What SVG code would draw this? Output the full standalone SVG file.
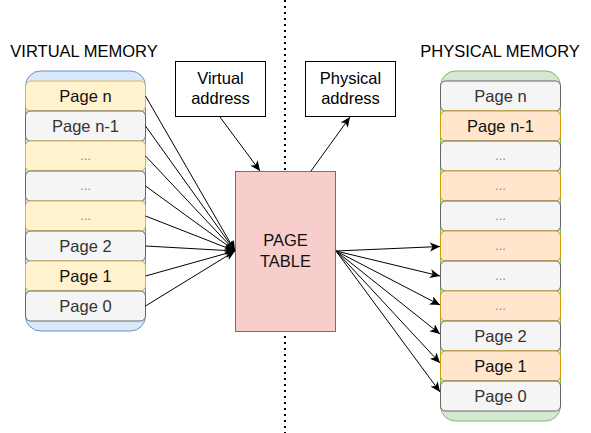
<svg xmlns="http://www.w3.org/2000/svg" width="591" height="433" viewBox="0 0 591 433">
<defs>
<marker id="arr" markerUnits="userSpaceOnUse" markerWidth="12" markerHeight="10" refX="10" refY="4.5" orient="auto">
<path d="M0,0 L10,4.5 L0,9 L2.5,4.5 z" fill="#000"/>
</marker>
<style>
text{font-family:"Liberation Sans",Arial,sans-serif;font-size:16.5px;text-anchor:middle}
.y{fill:#fff2cc;stroke:#d6b656}
.g{fill:#f5f5f5;stroke:#666666}
.o{fill:#ffe6cc;stroke:#d79b00}
.tg{fill:#333333}
.ty{fill:#111}
.dots{fill:#888;font-size:13px}
.c{stroke:#000;stroke-width:1;fill:none;marker-end:url(#arr)}
.box{fill:#fff;stroke:#000}
</style>
</defs>
<rect width="591" height="433" fill="#fff"/>
<line x1="285" y1="0" x2="285" y2="433" stroke="#000" stroke-width="2" stroke-dasharray="2 4"/>
<text x="84" y="56.5">VIRTUAL MEMORY</text>
<text x="500" y="56.5">PHYSICAL MEMORY</text>
<g id="virtual-memory">
<rect x="25.5" y="71" width="120" height="260" rx="15" fill="#dae8fc" stroke="#6c8ebf"/>
<rect class="y" x="25.5" y="81" width="120" height="30" rx="5"/><text class="ty" x="85.5" y="101.5">Page n</text>
<rect class="g" x="25.5" y="111" width="120" height="30" rx="5"/><text class="tg" x="85.5" y="131.5">Page n-1</text>
<rect class="y" x="25.5" y="141" width="120" height="30" rx="5"/><text class="dots" x="85.5" y="160">...</text>
<rect class="g" x="25.5" y="171" width="120" height="30" rx="5"/><text class="dots" x="85.5" y="190">...</text>
<rect class="y" x="25.5" y="201" width="120" height="30" rx="5"/><text class="dots" x="85.5" y="220">...</text>
<rect class="g" x="25.5" y="231" width="120" height="30" rx="5"/><text class="tg" x="85.5" y="251.5">Page 2</text>
<rect class="y" x="25.5" y="261" width="120" height="30" rx="5"/><text class="ty" x="85.5" y="281.5">Page 1</text>
<rect class="g" x="25.5" y="291" width="120" height="30" rx="5"/><text class="tg" x="85.5" y="311.5">Page 0</text>
</g>
<g id="physical-memory">
<rect x="440.5" y="71" width="120" height="350" rx="15" fill="#d5e8d4" stroke="#82b366"/>
<rect class="g" x="440.5" y="81" width="120" height="30" rx="5"/><text class="tg" x="500.5" y="101.5">Page n</text>
<rect class="o" x="440.5" y="111" width="120" height="30" rx="5"/><text class="ty" x="500.5" y="131.5">Page n-1</text>
<rect class="g" x="440.5" y="141" width="120" height="30" rx="5"/><text class="dots" x="500.5" y="160">...</text>
<rect class="o" x="440.5" y="171" width="120" height="30" rx="5"/><text class="dots" x="500.5" y="190">...</text>
<rect class="g" x="440.5" y="201" width="120" height="30" rx="5"/><text class="dots" x="500.5" y="220">...</text>
<rect class="o" x="440.5" y="231" width="120" height="30" rx="5"/><text class="dots" x="500.5" y="250">...</text>
<rect class="g" x="440.5" y="261" width="120" height="30" rx="5"/><text class="dots" x="500.5" y="280">...</text>
<rect class="o" x="440.5" y="291" width="120" height="30" rx="5"/><text class="dots" x="500.5" y="310">...</text>
<rect class="g" x="440.5" y="321" width="120" height="30" rx="5"/><text class="tg" x="500.5" y="341.5">Page 2</text>
<rect class="o" x="440.5" y="351" width="120" height="30" rx="5"/><text class="ty" x="500.5" y="371.5">Page 1</text>
<rect class="g" x="440.5" y="381" width="120" height="30" rx="5"/><text class="tg" x="500.5" y="401.5">Page 0</text>
</g>
<g id="page-table">
<rect x="235.5" y="171.5" width="100" height="160" fill="#f8cecc" stroke="#b85450"/>
<text x="285.5" y="246" fill="#111">PAGE</text>
<text x="285.5" y="267" fill="#111">TABLE</text>
</g>
<g id="virtual-address">
<rect class="box" x="175.5" y="61.5" width="90" height="55"/>
<text x="220.5" y="84">Virtual</text>
<text x="220.5" y="104">address</text>
</g>
<g id="physical-address">
<rect class="box" x="305.5" y="61.5" width="90" height="55"/>
<text x="350.5" y="84">Physical</text>
<text x="350.5" y="104">address</text>
</g>
<g id="connectors">
<line class="c" x1="220" y1="117" x2="260" y2="171"/>
<line class="c" x1="311" y1="171" x2="350" y2="117"/>
<line class="c" x1="145.5" y1="96" x2="235" y2="251"/>
<line class="c" x1="145.5" y1="126" x2="235" y2="251"/>
<line class="c" x1="145.5" y1="156" x2="235" y2="251"/>
<line class="c" x1="145.5" y1="186" x2="235" y2="251"/>
<line class="c" x1="145.5" y1="216" x2="235" y2="251"/>
<line class="c" x1="145.5" y1="246" x2="235" y2="251"/>
<line class="c" x1="145.5" y1="276" x2="235" y2="251"/>
<line class="c" x1="145.5" y1="306" x2="235" y2="251"/>
<line class="c" x1="336" y1="251" x2="440" y2="246.5"/>
<line class="c" x1="336" y1="251" x2="440" y2="276"/>
<line class="c" x1="336" y1="251" x2="440" y2="305"/>
<line class="c" x1="336" y1="251" x2="440" y2="334"/>
<line class="c" x1="336" y1="251" x2="440" y2="363"/>
<line class="c" x1="336" y1="251" x2="440" y2="392"/>
</g>
</svg>
